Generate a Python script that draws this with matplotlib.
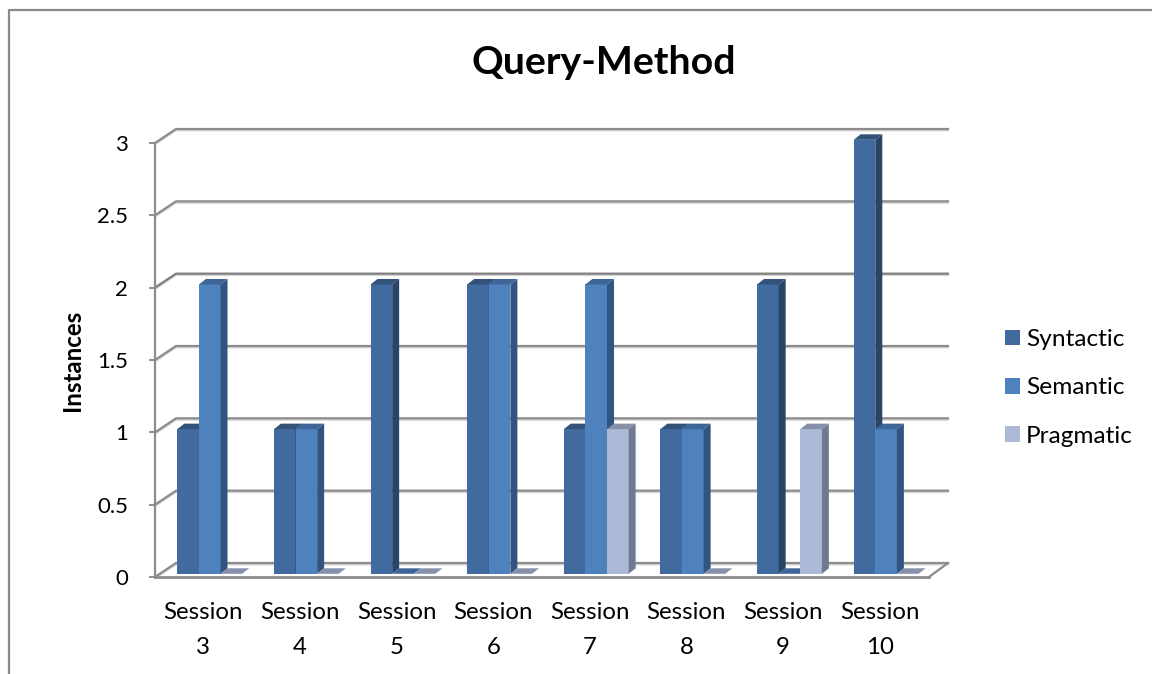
import matplotlib
matplotlib.use('Agg')
import matplotlib.pyplot as plt
from matplotlib.patches import Polygon, Patch

sessions = ['Session\n3', 'Session\n4', 'Session\n5', 'Session\n6',
            'Session\n7', 'Session\n8', 'Session\n9', 'Session\n10']
syntactic = [1, 1, 2, 2, 1, 1, 2, 3]
semantic = [2, 1, 0, 2, 2, 1, 0, 1]
pragmatic = [0, 0, 0, 0, 1, 0, 1, 0]
series_names = ['Syntactic', 'Semantic', 'Pragmatic']
yticks = [0, 0.5, 1, 1.5, 2, 2.5, 3]
ytick_labels = ['0', '0.5', '1', '1.5', '2', '2.5', '3']

W, H = 1152, 674
plt.rcParams['font.family'] = ['Lato', 'DejaVu Sans']

fig = plt.figure(figsize=(W / 100, H / 100), dpi=100)
fig.patch.set_facecolor('white')

# axes box is the front plane of the 3d look
left, right, bottom, top = 155, 928, 577, 143
ax = fig.add_axes([left / W, 1 - bottom / H, (right - left) / W, (bottom - top) / H])
ax.patch.set_visible(False)
ax.set_xlim(0, 8)
ax.set_ylim(0, 3)

px = 8 / (right - left)      # one pixel in x units
py = 3 / (bottom - top)      # one pixel in y units

# walls and gridlines
wall_dx, wall_dy = 21 * px, 14 * py
grid_end = 8 + 20 * px
grid_col = '#8c8c8c'
for v in yticks:
    col = '#7f7f7f' if v == 2 else grid_col
    xs = [0, wall_dx, grid_end]
    ys = [v, v + wall_dy, v + wall_dy]
    ax.plot(xs, [y - 1.6 * py for y in ys], color='#d4d4d4', lw=1.2, zorder=1, clip_on=False)
    ax.plot(xs, ys, color=col, lw=1.6, zorder=2, clip_on=False)
ax.plot([0, 8 + px], [0, 0], color=grid_col, lw=2, zorder=2, clip_on=False)
ax.plot([8 + px, grid_end], [0, wall_dy], color=grid_col, lw=1.6, zorder=2, clip_on=False)

# bars with side and top faces
bar_w = 21.6 * px
offsets = [-15.2 * px, 6.4 * px, 28 * px]
lift = 3.2 * py
dx, dy = 7 * px, 5.5 * py
front_cols = ['#416b9e', '#4f81bd', '#acbad8']
side_cols = ['#2a4467', '#315580', '#6e7a8f']
top_cols = ['#32527a', '#3d6598', '#8690a8']
all_vals = [syntactic, semantic, pragmatic]

centers = [i + 0.5 for i in range(len(sessions))]
for i, c in enumerate(centers):
    for j, vals in enumerate(all_vals):
        v = vals[i]
        x0 = c + offsets[j] - bar_w / 2
        x1 = x0 + bar_w
        z = 5 + i * 3 + j
        ax.bar(x0, v, width=bar_w, bottom=lift, align='edge', color=front_cols[j],
               linewidth=0, zorder=z, clip_on=False)
        h = v + lift
        ax.add_patch(Polygon([(x1, lift), (x1 + dx, lift + dy), (x1 + dx, h + dy), (x1, h)],
                             closed=True, fc=side_cols[j], ec='none', zorder=z, clip_on=False))
        ax.add_patch(Polygon([(x0, h), (x0 + dx, h + dy), (x1 + dx, h + dy), (x1, h)],
                             closed=True, fc=top_cols[j], ec='none', zorder=z, clip_on=False))

for s in ['top', 'right', 'bottom']:
    ax.spines[s].set_visible(False)
ax.spines['left'].set_color(grid_col)
ax.spines['left'].set_linewidth(1.6)
ax.set_yticks(yticks)
ax.set_yticklabels(ytick_labels, fontsize=16, color='black')
ax.tick_params(axis='y', length=4.5, width=1.4, color=grid_col, pad=15)
ax.set_xticks(centers)
ax.set_xticklabels(sessions, fontsize=17.3, color='black', linespacing=1.8)
ax.tick_params(axis='x', length=0, pad=18)
ax.set_ylabel('Instances', fontsize=17.4, fontweight='bold', va='center')
ax.yaxis.set_label_coords((72 - left) / (right - left), (bottom - 360) / (bottom - top))

fig.text(604 / W, 1 - 63 / H, 'Query-Method', fontsize=28.3, fontweight='bold',
         ha='center', va='center')

handles = [Patch(fc=front_cols[j], ec='none') for j in range(3)]
fig.legend(handles, series_names, loc='center left', bbox_to_anchor=(1005 / W, 1 - 388 / H),
           frameon=False, fontsize=17.6, handlelength=0.61, handleheight=0.61,
           handletextpad=0.25, labelspacing=1.12, borderpad=0, borderaxespad=0)

# outer chart frame, cut by the page on the right and bottom
fig.add_artist(plt.Line2D([9 / W, 9 / W, 1], [0, 1 - 10 / H, 1 - 10 / H],
                          color='#8a8a8a', lw=1.6, transform=fig.transFigure))

fig.savefig('out.png', dpi=100)
